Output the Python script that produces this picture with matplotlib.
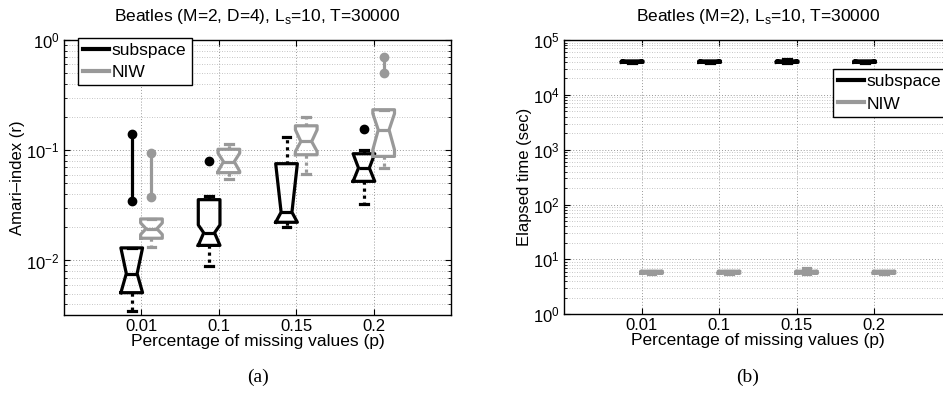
import matplotlib
matplotlib.use("Agg")
from matplotlib import pyplot as plt
from matplotlib.lines import Line2D
from matplotlib.ticker import LogLocator, NullFormatter

plt.rcParams.update({'font.family': ['Liberation Sans', 'DejaVu Sans'],
                     'font.size': 12, 'mathtext.fontset': 'custom',
                     'mathtext.rm': 'Liberation Sans'})

CATEGORIES = ['0.01', '0.1', '0.15', '0.2']
SUB_COLOR = 'black'
NIW_COLOR = '0.6'

# Amari-index, subspace
sub_whislo = [0.00348, 0.0089, 0.0202, 0.0328]
sub_q1 = [0.0051, 0.0137, 0.0222, 0.0522]
sub_med = [0.0076, 0.0178, 0.0274, 0.069]
sub_q3 = [0.0130, 0.0356, 0.0755, 0.0929]
sub_whishi = [0.0130, 0.0387, 0.133, 0.101]
sub_cilo = [0.0051, 0.0137, 0.0222, 0.0522]
sub_cihi = [0.0130, 0.0210, 0.0755, 0.0929]
sub_fliers = [[0.0344, 0.140], [0.0792], [], [0.1556]]

# Amari-index, NIW
niw_whislo = [0.0133, 0.0552, 0.0609, 0.069]
niw_q1 = [0.0159, 0.0626, 0.091, 0.0879]
niw_med = [0.0194, 0.0787, 0.120, 0.153]
niw_q3 = [0.0238, 0.102, 0.1666, 0.233]
niw_whishi = [0.0238, 0.1145, 0.1996, 0.233]
niw_cilo = [0.0172, 0.0643, 0.0975, 0.101]
niw_cihi = [0.0219, 0.0942, 0.153, 0.215]
niw_fliers = [[0.0377, 0.0944], [], [], [0.499, 0.706]]

# Elapsed time (sec), subspace
tsub_whislo = [38500, 38500, 38500, 38500]
tsub_q1 = [39000, 39000, 39000, 39000]
tsub_med = [40200, 40200, 40200, 40200]
tsub_q3 = [41500, 41500, 41500, 41500]
tsub_whishi = [42000, 42000, 46000, 42000]

# Elapsed time (sec), NIW
tniw_whislo = [5.5, 5.5, 5.5, 5.5]
tniw_q1 = [5.6, 5.6, 5.6, 5.6]
tniw_med = [5.85, 5.85, 5.85, 5.85]
tniw_q3 = [6.1, 6.1, 6.1, 6.1]
tniw_whishi = [6.2, 6.2, 6.9, 6.2]


def make_stats(whislo, q1, med, q3, whishi, cilo=None, cihi=None, fliers=None):
    n = len(q1)
    cilo = cilo or q1
    cihi = cihi or q3
    fliers = fliers or [[] for _ in range(n)]
    return [dict(whislo=whislo[i], q1=q1[i], med=med[i], q3=q3[i], whishi=whishi[i],
                 cilo=cilo[i], cihi=cihi[i], fliers=fliers[i]) for i in range(n)]


def draw_boxes(ax, stats, positions, color):
    lw = 2.3
    ax.bxp(stats, positions=positions, widths=0.28, shownotches=True,
           manage_ticks=False, capwidths=0.1,
           boxprops=dict(color=color, linewidth=lw),
           whiskerprops=dict(color=color, linewidth=lw, linestyle=(0, (1, 1.2))),
           capprops=dict(color=color, linewidth=lw),
           medianprops=dict(color=color, linewidth=lw),
           flierprops=dict(marker='o', markersize=6, markerfacecolor=color,
                           markeredgecolor=color, color=color, linestyle='-',
                           linewidth=lw))


def style_axes(ax):
    ax.set_yscale('log')
    ax.set_xlim(0, 5)
    ax.set_xticks(range(1, len(CATEGORIES) + 1))
    ax.set_xticklabels(CATEGORIES)
    ax.yaxis.set_minor_locator(LogLocator(base=10, subs=range(2, 10), numticks=20))
    ax.yaxis.set_minor_formatter(NullFormatter())
    ax.grid(True, which='major', linestyle=(0, (1, 2)), color='0.6', linewidth=0.7)
    ax.grid(True, which='minor', axis='y', linestyle=(0, (1, 2)), color='0.7', linewidth=0.6)
    ax.tick_params(direction='in', top=True, right=True, length=4, pad=3)
    ax.tick_params(which='minor', direction='in', right=True, length=2)
    for sp in ax.spines.values():
        sp.set_linewidth(1.0)
    ax.set_xlabel('Percentage of missing values (p)', labelpad=0, fontsize=12.5)


def add_legend(ax, anchor):
    handles = [Line2D([], [], color=SUB_COLOR, linewidth=3, label='subspace'),
               Line2D([], [], color=NIW_COLOR, linewidth=3, label='NIW')]
    leg = ax.legend(handles=handles, loc='upper left', bbox_to_anchor=anchor,
                    borderaxespad=0, fancybox=False, edgecolor='black', framealpha=1,
                    fontsize=12.5, handlelength=1.5, handletextpad=0.15, borderpad=0.3,
                    labelspacing=0.4)
    leg.get_frame().set_linewidth(1.0)


fig = plt.figure(figsize=(9.43, 3.93), dpi=100)
W, H = 943, 393

pos = list(range(1, len(CATEGORIES) + 1))
left_pos = [p - 0.125 for p in pos]
right_pos = [p + 0.13 for p in pos]

# (a) Amari-index
ax1 = fig.add_axes([64 / W, (H - 315) / H, 387 / W, 275 / H])
style_axes(ax1)
draw_boxes(ax1, make_stats(sub_whislo, sub_q1, sub_med, sub_q3, sub_whishi,
                           sub_cilo, sub_cihi, sub_fliers), left_pos, SUB_COLOR)
draw_boxes(ax1, make_stats(niw_whislo, niw_q1, niw_med, niw_q3, niw_whishi,
                           niw_cilo, niw_cihi, niw_fliers), right_pos, NIW_COLOR)
ax1.set_ylim(0.0032, 1)
ax1.set_ylabel('Amari–index (r)', labelpad=1)
ax1.set_title('Beatles (M=2, D=4), L$_\\mathregular{s}$=10, T=30000', fontsize=12.5, pad=14)
add_legend(ax1, (0.036, 1.008))

# (b) Elapsed time
ax2 = fig.add_axes([564 / W, (H - 314.3) / H, 387.5 / W, 274.3 / H])
style_axes(ax2)
draw_boxes(ax2, make_stats(tsub_whislo, tsub_q1, tsub_med, tsub_q3, tsub_whishi),
           [p - 0.12 for p in pos], SUB_COLOR)
draw_boxes(ax2, make_stats(tniw_whislo, tniw_q1, tniw_med, tniw_q3, tniw_whishi),
           [p + 0.13 for p in pos], NIW_COLOR)
ax2.set_ylim(1, 1e5)
ax2.set_ylabel('Elapsed time (sec)', labelpad=1)
ax2.set_title('Beatles (M=2), L$_\\mathregular{s}$=10, T=30000', fontsize=12.5, pad=14)
add_legend(ax2, (0.694, 0.894))

fig.text(258 / W, 1 - 377 / H, '(a)', ha='center', va='center',
         family='Liberation Serif', fontsize=14)
fig.text(748 / W, 1 - 377 / H, '(b)', ha='center', va='center',
         family='Liberation Serif', fontsize=14)

fig.savefig('out.png', dpi=100)
